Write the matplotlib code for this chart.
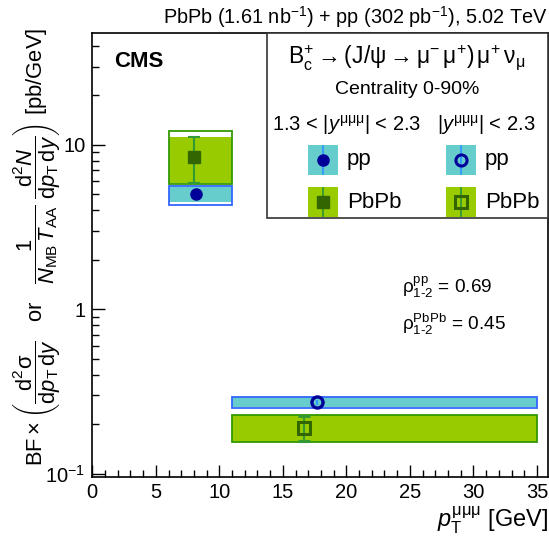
import matplotlib
matplotlib.use("Agg")
import matplotlib.pyplot as plt
from matplotlib.patches import Rectangle
from matplotlib.lines import Line2D
import numpy as np

plt.rcParams["font.family"] = ["Liberation Sans", "DejaVu Sans"]
plt.rcParams["mathtext.fontset"] = "custom"
plt.rcParams["mathtext.rm"] = "Liberation Sans"
plt.rcParams["mathtext.it"] = "Liberation Sans:italic"
plt.rcParams["mathtext.bf"] = "Liberation Sans:bold"

# ---- data: pT bins ----
bin_lo = [6.0, 11.0]
bin_hi = [11.0, 35.0]

# pp, 1.3<|y|<2.3 (bin 1) and |y|<2.3 (bin 2)
pp_pt = [8.15, 17.65]
pp_val = [5.0, 0.272]
pp_stat_lo = [4.6, 0.262]
pp_stat_hi = [5.4, 0.282]
pp_syst_lo = [4.52, 0.253]
pp_syst_hi = [5.57, 0.291]
pp_tot_lo = [4.32, 0.251]
pp_tot_hi = [5.60, 0.291]

# PbPb
pbpb_pt = [8.0, 16.7]
pbpb_val = [8.4, 0.190]
pbpb_stat_lo = [5.9, 0.158]
pbpb_stat_hi = [11.1, 0.224]
pbpb_syst_lo = [5.85, 0.1557]
pbpb_syst_hi = [11.2, 0.2275]
pbpb_tot_lo = [5.78, 0.1555]
pbpb_tot_hi = [12.2, 0.2278]

rho_pp = 0.69
rho_pbpb = 0.45

CYAN = "#66cccc"
BLUE_LINE = "#3366ff"
NAVY = "#000099"
LIME = "#99cc00"
GREEN_LINE = "#339900"
DKGREEN = "#336600"
ERR_GREEN = "#339933"
ERR_BLUE = "#3399ff"

W, H = 549, 541
fig = plt.figure(figsize=(W / 100, H / 100), dpi=100)
L, R, T, B = 92.3, 548.0, 33.0, 477.0
ax = fig.add_axes([L / W, 1 - B / H, (R - L) / W, (B - T) / H])
ax.set_yscale("log")
ax.set_xlim(0, 35.87)
ax.set_ylim(0.0953, 48.0)


def fpos(x, y):
    return (x / W, 1 - y / H)


# systematic boxes
for i in range(2):
    w = bin_hi[i] - bin_lo[i]
    ax.add_patch(Rectangle((bin_lo[i], pbpb_syst_lo[i]), w, pbpb_syst_hi[i] - pbpb_syst_lo[i],
                           facecolor=LIME, edgecolor="none", zorder=1))
    ax.add_patch(Rectangle((bin_lo[i], pbpb_tot_lo[i]), w, pbpb_tot_hi[i] - pbpb_tot_lo[i],
                           facecolor="none", edgecolor=GREEN_LINE, lw=1.3, zorder=2))
    ax.add_patch(Rectangle((bin_lo[i], pp_syst_lo[i]), w, pp_syst_hi[i] - pp_syst_lo[i],
                           facecolor=CYAN, edgecolor="none", zorder=1))
    ax.add_patch(Rectangle((bin_lo[i], pp_tot_lo[i]), w, pp_tot_hi[i] - pp_tot_lo[i],
                           facecolor="none", edgecolor=BLUE_LINE, lw=1.3, zorder=2))

pp_yerr = np.array([np.subtract(pp_val, pp_stat_lo), np.subtract(pp_stat_hi, pp_val)])
pb_yerr = np.array([np.subtract(pbpb_val, pbpb_stat_lo), np.subtract(pbpb_stat_hi, pbpb_val)])

# PbPb points
ax.errorbar(pbpb_pt[:1], pbpb_val[:1], yerr=pb_yerr[:, :1], fmt="s", color=DKGREEN, ms=8.5,
            ecolor=ERR_GREEN, elinewidth=1.5, capsize=4, capthick=1.5, zorder=4)
ax.errorbar(pbpb_pt[1:], pbpb_val[1:], yerr=pb_yerr[:, 1:], fmt="s", mfc="none", mec=DKGREEN, mew=2.2,
            ms=8.0, ecolor=ERR_GREEN, elinewidth=1.5, capsize=4, capthick=1.5, zorder=4)
# pp points
ax.errorbar(pp_pt[:1], pp_val[:1], yerr=pp_yerr[:, :1], fmt="o", color=NAVY, ms=8.0,
            ecolor=ERR_BLUE, elinewidth=1.5, capsize=0, zorder=5)
ax.errorbar(pp_pt[1:], pp_val[1:], yerr=pp_yerr[:, 1:], fmt="o", mfc="none", mec=NAVY, mew=2.4,
            ms=8.0, ecolor=ERR_BLUE, elinewidth=1.5, capsize=0, zorder=5)

# axes styling
for s in ax.spines.values():
    s.set_linewidth(1.2)
ax.set_xticks(np.arange(0, 36, 5))
ax.set_xticks(np.arange(0, 36, 1), minor=True)
ax.set_yticks([0.1, 1, 10])
ax.set_yticklabels([r"$10^{-1}$", "1", "10"])
ax.yaxis.set_minor_locator(matplotlib.ticker.LogLocator(base=10, subs=np.arange(2, 10)))
ax.yaxis.set_minor_formatter(matplotlib.ticker.NullFormatter())
ax.tick_params(which="both", direction="in", top=False, right=False, labelsize=14.5, width=1.0)
ax.tick_params(which="major", length=9)
ax.tick_params(which="minor", length=5)
ax.tick_params(axis="x", pad=4)
ax.tick_params(axis="y", pad=5)

# titles and labels
fig.text(548 / W, 1 - 17 / H, r"PbPb (1.61 nb$^{-1}$) + pp (302 pb$^{-1}$), 5.02 TeV",
         ha="right", va="center", fontsize=14.3)
ax.text(0.048, 0.935, "CMS", transform=ax.transAxes, fontsize=16, fontweight="bold",
        ha="left", va="center")
fig.text(37 / W, 1 - 28 / H,
         r"$\mathrm{BF}\times\left(\dfrac{\mathrm{d}^2\mathrm{\sigma}}{\mathrm{d}p_\mathrm{T}\,\mathrm{d}y}"
         r"\quad\mathrm{or}\quad\dfrac{1}{N_\mathrm{MB}\,T_\mathrm{AA}}\;"
         r"\dfrac{\mathrm{d}^2N}{\mathrm{d}p_\mathrm{T}\,\mathrm{d}y}\right)\ [\mathrm{pb/GeV}]$",
         rotation=90, ha="center", va="top", fontsize=15.8)
fig.text(548 / W, 1 - 520 / H, r"$p_\mathrm{T}^{\mathrm{\mu\mu\mu}}$ [GeV]",
         ha="right", va="center", fontsize=17)

ax.text(0.68, 0.427, r"$\mathrm{\rho^{pp}_{1\text{-}2}}$ = %.2f" % rho_pp, transform=ax.transAxes,
        fontsize=13.7, ha="left", va="center")
ax.text(0.68, 0.344, r"$\mathrm{\rho^{PbPb}_{1\text{-}2}}$ = %.2f" % rho_pbpb, transform=ax.transAxes,
        fontsize=13.7, ha="left", va="center")

# legend panel
x0, y0 = fpos(267.3, 218.3)
x1, y1 = fpos(547.5, 33.0)
fig.patches.append(Rectangle((x0, y0), x1 - x0, y1 - y0, transform=fig.transFigure,
                             facecolor="white", edgecolor="#333333", lw=1.2, zorder=5))
fig.text(*fpos(407, 58), r"$\mathrm{B}_\mathrm{c}^{+}\mathrm{\rightarrow(J/\psi\rightarrow\mu^{-}\,\mu^{+})\,\mu^{+}\,\nu_{\mu}}$",
         ha="center", va="center", fontsize=16.5, zorder=6)
fig.text(*fpos(407, 90), "Centrality 0-90%", ha="center", va="center", fontsize=14, zorder=6)
fig.text(*fpos(272, 125), r"1.3 < |$y^{\mathrm{\mu\mu\mu}}$| < 2.3", ha="left", va="center",
         fontsize=14.5, zorder=6)
fig.text(*fpos(437, 125), r"|$y^{\mathrm{\mu\mu\mu}}$| < 2.3", ha="left", va="center",
         fontsize=14.5, zorder=6)


def legend_entry(cx, cy, fill, marker, mfc, mec, ecol, label):
    bx0, by0 = fpos(cx - 15, cy + 15)
    bx1, by1 = fpos(cx + 15, cy - 15)
    fig.patches.append(Rectangle((bx0, by0), bx1 - bx0, by1 - by0, transform=fig.transFigure,
                                 facecolor=fill, edgecolor="none", zorder=6))
    lx, ly0 = fpos(cx, cy + 14)
    _, ly1 = fpos(cx, cy - 14)
    fig.lines.append(Line2D([lx, lx], [ly0, ly1], transform=fig.transFigure, color=ecol, lw=1.3,
                            zorder=7))
    mx, my = fpos(cx, cy)
    fig.lines.append(Line2D([mx], [my], transform=fig.transFigure, marker=marker, ms=8,
                            mfc=mfc, mec=mec, mew=2.2 if mfc == "none" else 1, ls="none",
                            zorder=8))
    fig.text(*fpos(cx + 24, cy), label, ha="left", va="center", fontsize=16, zorder=8)


legend_entry(323, 160, CYAN, "o", NAVY, NAVY, ERR_BLUE, "pp")
legend_entry(323, 202, LIME, "s", DKGREEN, DKGREEN, ERR_GREEN, "PbPb")
legend_entry(461, 160, CYAN, "o", "none", NAVY, ERR_BLUE, "pp")
legend_entry(461, 202, LIME, "s", "none", DKGREEN, ERR_GREEN, "PbPb")

fig.savefig("out.png", dpi=100)
